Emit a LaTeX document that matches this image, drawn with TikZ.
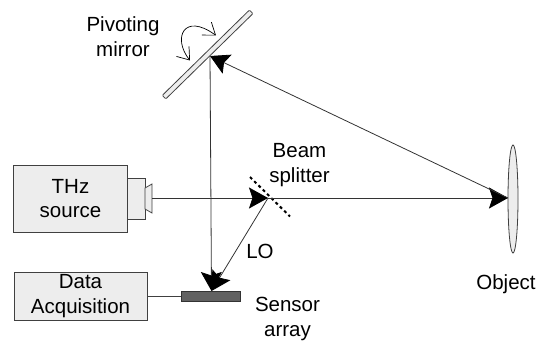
\documentclass[tikz,border=0pt]{standalone}
\usepackage{fontspec}
\setmainfont{Liberation Sans}
\usetikzlibrary{arrows.meta,shapes.geometric}

\begin{document}
\begin{tikzpicture}[x=1pt,y=-1pt, line width=0.8pt, every node/.style={inner sep=0pt,font=\fontsize{20.5}{24.8}\selectfont,align=center},
    part/.style={draw=black!75,fill=black!7},
    ray/.style={draw=black!80,-{Stealth[length=19pt,width=21pt,inset=3.5pt,color=black]}}]
    \useasboundingbox (0,0) rectangle (536,342);

    \node[part, minimum width=114pt, minimum height=67pt] (THz) at (70.5,198.5) {THz\\source};
    \node[part, minimum width=17.5pt, minimum height=41.5pt] (Neck) at (136.25,198.75) {};
    \node[part, minimum width=133pt, minimum height=48pt] (DAQ) at (80.5,296) {Data\\Acquisition};
    \node[draw=black!80, fill=black!62, minimum width=59.5pt, minimum height=10pt] (Sensor) at (211,296) {};
    \node[part, ellipse, minimum width=10pt, minimum height=108pt] (Object) at (513,199) {};
    \node[part, rounded corners=1pt, minimum width=122pt, minimum height=5pt, rotate=44.4] (Mirror) at (207.6,54.5) {};

    \coordinate (HornA) at (145,188);
    \coordinate (HornB) at (152,184);
    \coordinate (HornC) at (152,213);
    \coordinate (HornD) at (145,209);
    \coordinate (HornOut) at (152,198);
    \coordinate (Split) at (268,198);
    \coordinate (SplitA) at (250,177);
    \coordinate (SplitB) at (290,216.5);
    \coordinate (Pivot) at (210,56);
    \coordinate (Hit) at (508,198);
    \coordinate (Detect) at (211.5,291);
    \coordinate (TurnA) at (216,35.5);
    \coordinate (TurnB) at (190,60.5);

    \draw[part] (HornA) -- (HornB) -- (HornC) -- (HornD) -- cycle;
    \draw[line width=2pt, dash pattern=on 3pt off 3pt] (SplitA) -- (SplitB);

    \draw[ray] (HornOut) -- (Split);
    \draw[ray] (Split) -- (Hit);
    \draw[ray] (Hit) -- (Pivot);
    \draw[ray] (Pivot) -- (Detect);
    \draw[ray] (Split) -- (Detect);
    \draw[draw=black!75] (DAQ.east) -- (Sensor.west);

    \draw[{Straight Barb[length=11pt,width=16pt]}-{Straight Barb[length=11pt,width=16pt]}, line width=0.7pt] (TurnB) .. controls (172,38) and (184,12) .. (TurnA);

    \node (PivotText) at (123,37) {Pivoting\\mirror};
    \node (SplitText) at (299.5,165) {Beam\\splitter};
    \node (LO) at (260,251) {LO};
    \node (SensorText) at (287.5,319) {Sensor\\array};
    \node (ObjectText) at (506,284) {Object};
\end{tikzpicture}
\end{document}
